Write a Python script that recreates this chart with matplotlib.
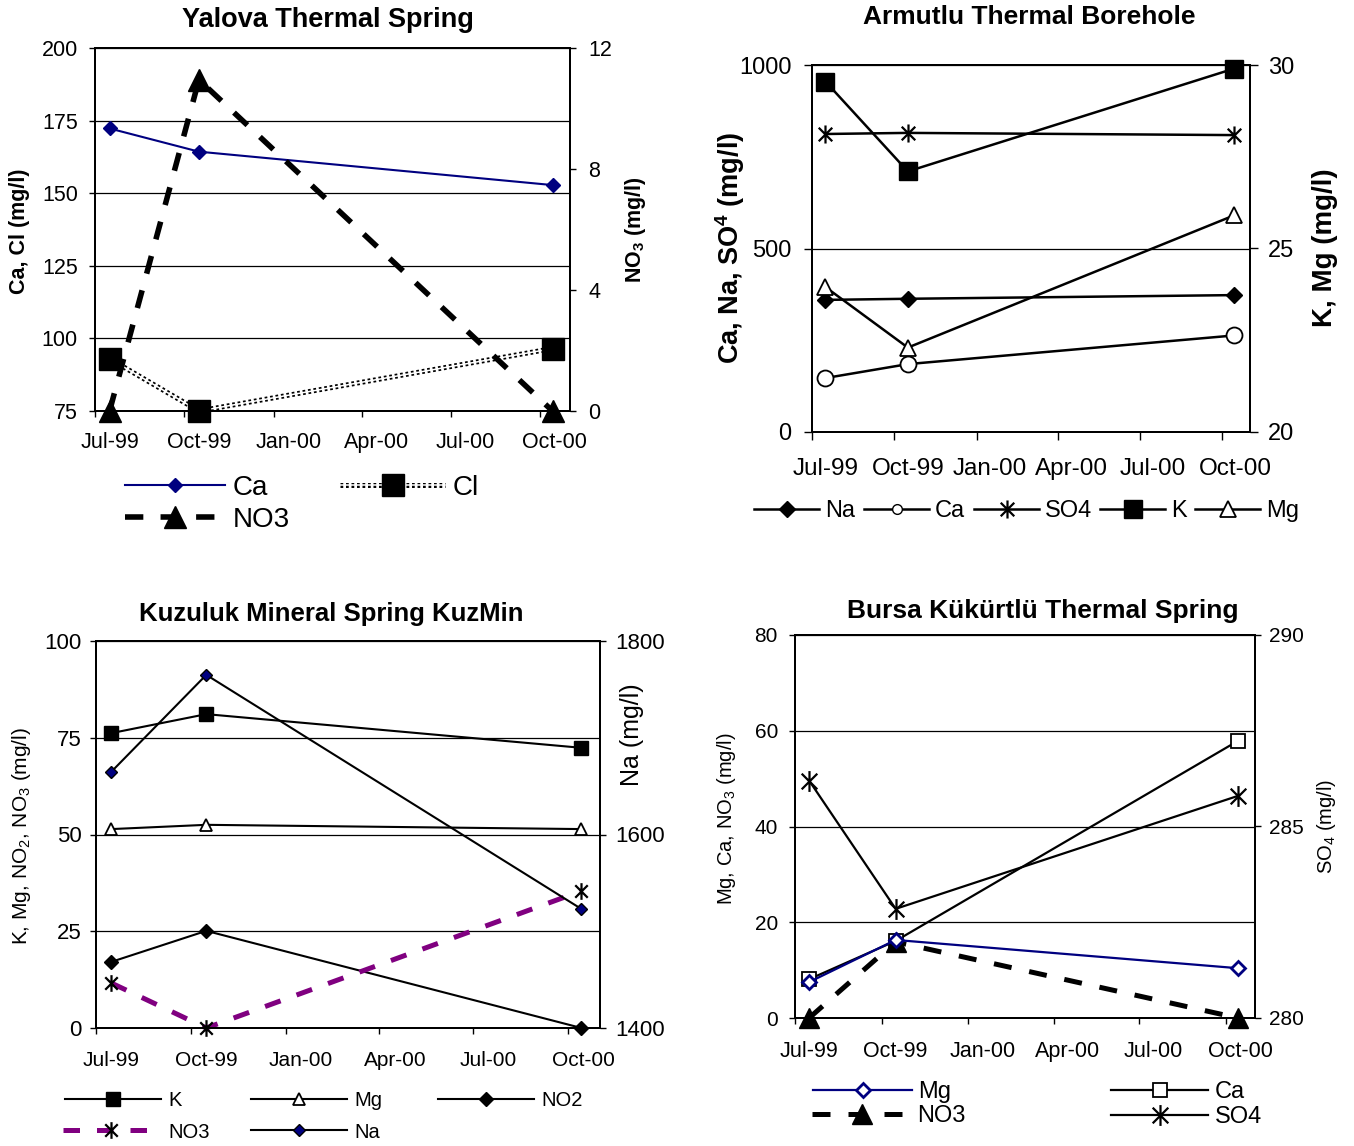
import matplotlib
matplotlib.use("Agg")
import matplotlib.pyplot as plt
import matplotlib.dates as mdates
import pandas as pd
from matplotlib.lines import Line2D
from matplotlib.path import Path
from matplotlib.legend_handler import HandlerTuple

plt.rcParams['font.family'] = ['Liberation Sans', 'DejaVu Sans']
plt.rcParams['mathtext.fontset'] = 'custom'
plt.rcParams['mathtext.rm'] = 'Liberation Sans'
plt.rcParams['mathtext.bf'] = 'Liberation Sans:bold'

# ---------------- data ----------------
sample_dates = ['1999-07-16', '1999-10-16', '2000-10-14']
tick_labels = ['Jul-99', 'Oct-99', 'Jan-00', 'Apr-00', 'Jul-00', 'Oct-00']
tick_month_starts = ['1999-07-01', '1999-10-01', '2000-01-01', '2000-04-01', '2000-07-01', '2000-10-01']
tick_label_dates = ['1999-07-16', '1999-10-16', '2000-01-16', '2000-04-16', '2000-07-16', '2000-10-16']
x_range = ['1999-07-01', '2000-11-01']

# Yalova Thermal Spring
yal_ca = [172.3, 164.3, 152.8]
yal_cl = [93.0, 75.0, 96.5]
yal_no3 = [0.0, 10.95, 0.0]

# Armutlu Thermal Borehole
arm_na = [360, 363, 373]
arm_ca = [147, 185, 263]
arm_so4 = [812, 815, 809]
arm_k = [29.55, 27.1, 29.9]
arm_mg = [23.95, 22.3, 25.9]

# Kuzuluk Mineral Spring KuzMin
kuz_k = [76.2, 81.1, 72.4]
kuz_mg = [51.4, 52.5, 51.4]
kuz_no2 = [17.1, 25.1, 0.0]
kuz_no3 = [11.6, 0.0, 35.4]
kuz_na = [1665, 1765, 1523]

# Bursa Kukurtlu Thermal Spring
bur_mg = [7.5, 16.3, 10.4]
bur_ca = [8.1, 16.1, 57.9]
bur_no3 = [0.0, 15.9, 0.0]
bur_so4 = [286.2, 282.85, 285.8]

# ---------------- figure ----------------
W, H = 1354, 1146
fig = plt.figure(figsize=(W / 100, H / 100), dpi=100)

x = mdates.date2num(pd.to_datetime(sample_dates))
xmaj = mdates.date2num(pd.to_datetime(tick_month_starts))
xlab = mdates.date2num(pd.to_datetime(tick_label_dates))
xlim = mdates.date2num(pd.to_datetime(x_range))

NAVY = '#000080'
PURPLE = '#800080'
# Excel-like asterisk: an X plus a vertical bar
ASTER = Path([(0, -1), (0, 1), (-0.75, -0.75), (0.75, 0.75), (-0.75, 0.75), (0.75, -0.75)],
             [Path.MOVETO, Path.LINETO, Path.MOVETO, Path.LINETO, Path.MOVETO, Path.LINETO])


def add_ax(l, t, r, b):
    return fig.add_axes([l / W, 1 - b / H, (r - l) / W, (b - t) / H])


def setup(ax, ax2, ylim, yticks, ylim2, yticks2, yfs, xfs, xpad, ypad_l, ypad_r, tl=6):
    ax.set_xlim(*xlim)
    ax.set_ylim(*ylim)
    ax.set_yticks(yticks)
    ax2.set_ylim(*ylim2)
    ax2.set_yticks(yticks2)
    ax.set_xticks(xmaj)
    ax.set_xticklabels([])
    ax.set_xticks(xlab, minor=True)
    ax.set_xticklabels(tick_labels, minor=True, fontsize=xfs)
    ax.tick_params(axis='x', which='major', length=tl * 0.72, width=1.0, direction='out')
    ax.tick_params(axis='x', which='minor', length=0, pad=xpad)
    ax.tick_params(axis='y', length=tl * 0.72, width=1.0, direction='out', labelsize=yfs, pad=ypad_l)
    ax2.tick_params(axis='y', length=tl * 0.72, width=1.0, direction='out', labelsize=yfs, pad=ypad_r)
    ax.yaxis.grid(True, color='black', lw=0.9)
    for a in (ax, ax2):
        for s in a.spines.values():
            s.set_linewidth(1.4)


def entry(handle, label, xh, y, hl_px, fs, pad_px=6):
    em = fs * 100 / 72
    fig.legend([handle], [label], loc='center left',
               bbox_to_anchor=(xh / W, 1 - y / H), frameon=False,
               borderpad=0, borderaxespad=0, handlelength=hl_px / em,
               handletextpad=pad_px / em, fontsize=fs, numpoints=1,
               handler_map={tuple: HandlerTuple(ndivide=1, pad=0)})


# ================= Yalova =================
ax = add_ax(95, 48, 570, 411)
ax2 = ax.twinx()
setup(ax, ax2, (75, 200), [75, 100, 125, 150, 175, 200], (0, 12), [0, 4, 8, 12],
      15.5, 15.5, 15, 8, 9)
l_ca, = ax.plot(x, yal_ca, color=NAVY, lw=1.5, marker='D', ms=7, mfc=NAVY, mec=NAVY, zorder=4)
cl_a, = ax.plot(x, yal_cl, color='black', lw=3.6, ls=(0, (0.55, 0.55)), zorder=3)
cl_b, = ax.plot(x, yal_cl, color='white', lw=1.1, zorder=3.1)
cl_c, = ax.plot(x, yal_cl, ls='none', marker='s', ms=15.5, color='black', zorder=5, clip_on=False)
l_no3, = ax2.plot(x, yal_no3, color='black', lw=4.0, ls=(0, (3.3, 3.1)), marker='^', ms=16.5,
                  clip_on=False, zorder=5)
fig.text(328 / W, 1 - 20 / H, 'Yalova Thermal Spring', ha='center', va='center',
         fontsize=19.5, fontweight='bold')
fig.text(20 / W, 1 - 231 / H, 'Ca, Cl (mg/l)', ha='center', va='center', rotation=90,
         fontsize=15.5, fontweight='bold')
fig.text(636 / W, 1 - 230 / H, r'NO$_{\mathdefault{3}}$ (mg/l)', ha='center', va='center',
         rotation=90, fontsize=15.5, fontweight='bold')
entry(l_ca, 'Ca', 125, 488, 100, 20, 8)
entry((cl_a, cl_b, Line2D([], [], ls='none', marker='s', ms=15.5, color='black')), 'Cl',
      340, 488, 105, 20, 8)
entry(l_no3, 'NO3', 125, 520, 100, 20, 8)

# ================= Armutlu =================
ax = add_ax(812, 65, 1250, 432)
ax2 = ax.twinx()
setup(ax, ax2, (0, 1000), [0, 500, 1000], (20, 30), [20, 25, 30], 17, 17.5, 19, 9, 7, tl=8)
kw = dict(color='black', lw=1.8, clip_on=False)
a_na, = ax.plot(x, arm_na, marker='D', ms=8, mfc='black', **kw)
a_ca, = ax.plot(x, arm_ca, marker='o', ms=11.5, mfc='white', mew=1.3, **kw)
a_so4, = ax.plot(x, arm_so4, marker=ASTER, ms=13, mew=1.6, **kw)
a_k, = ax2.plot(x, arm_k, marker='s', ms=13, mfc='black', **kw)
a_mg, = ax2.plot(x, arm_mg, marker='^', ms=11.5, mfc='white', mew=1.3, **kw)
fig.text(1029 / W, 1 - 17 / H, 'Armutlu Thermal Borehole', ha='center', va='center',
         fontsize=19, fontweight='bold')
fig.text(730 / W, 1 - 248 / H, r'Ca, Na, SO$^{\mathdefault{4}}$ (mg/l)', ha='center',
         va='center', rotation=90, fontsize=19.5, fontweight='bold')
fig.text(1325 / W, 1 - 248 / H, 'K, Mg (mg/l)', ha='center', va='center', rotation=90,
         fontsize=20, fontweight='bold')
leg_a = [(a_na, 'Na', 754), (Line2D([], [], color='black', lw=1.8, marker='o', ms=7, mfc='white'), 'Ca', 864),
         (a_so4, 'SO4', 974), (a_k, 'K', 1100), (a_mg, 'Mg', 1195)]
for h, lab, xx in leg_a:
    entry(h, lab, xx, 511, 65, 17, 6)

# ================= Kuzuluk =================
ax = add_ax(96, 641, 600, 1028)
ax2 = ax.twinx()
setup(ax, ax2, (0, 100), [0, 25, 50, 75, 100], (1400, 1800), [1400, 1600, 1800],
      16, 15, 16.5, 6, 7)
kw = dict(color='black', lw=1.5, clip_on=False)
k_k, = ax.plot(x, kuz_k, marker='s', ms=10, mfc='black', **kw)
k_mg, = ax.plot(x, kuz_mg, marker='^', ms=9, mfc='white', mew=1.3, **kw)
k_no2, = ax.plot(x, kuz_no2, marker='D', ms=7, mfc='black', **kw)
k_no3, = ax.plot(x, kuz_no3, color=PURPLE, lw=3.6, ls=(0, (3.3, 3.4)), marker=ASTER, ms=12,
                 mec='black', mew=1.6, clip_on=False)
k_na, = ax2.plot(x, kuz_na, marker='D', ms=6, mfc=NAVY, mec='black', mew=1.0, **kw)
fig.text(331 / W, 1 - 614 / H, 'Kuzuluk Mineral Spring KuzMin', ha='center', va='center',
         fontsize=18.5, fontweight='bold')
fig.text(22 / W, 1 - 836 / H, r'K, Mg, NO$_{\mathdefault{2}}$, NO$_{\mathdefault{3}}$ (mg/l)',
         ha='center', va='center', rotation=90, fontsize=15)
fig.text(632 / W, 1 - 735 / H, 'Na (mg/l)', ha='center', va='center', rotation=90, fontsize=18)
entry(k_k, 'K', 65, 1101, 96, 14.5, 7)
entry(k_mg, 'Mg', 251, 1101, 96, 14.5, 7)
entry(k_no2, 'NO2', 438, 1101, 96, 14.5, 7)
entry(k_no3, 'NO3', 63, 1132, 96, 14.5, 9)
entry(k_na, 'Na', 251, 1132, 96, 14.5, 7)

# ================= Bursa =================
ax = add_ax(795, 635, 1255, 1018)
ax2 = ax.twinx()
setup(ax, ax2, (0, 80), [0, 20, 40, 60, 80], (280, 290), [280, 285, 290],
      15, 15.5, 16.5, 8, 6)
kw = dict(lw=1.6, clip_on=False)
b_mg, = ax.plot(x, bur_mg, color=NAVY, marker='D', ms=7.5, mfc='white', mec=NAVY, mew=2, zorder=4, **kw)
b_ca, = ax.plot(x, bur_ca, color='black', marker='s', ms=9.5, mfc='white', mew=1.3, **kw)
b_no3, = ax.plot(x, bur_no3, color='black', lw=3.6, ls=(0, (3.6, 3.6)), marker='^', ms=14,
                 clip_on=False, zorder=3)
b_so4, = ax2.plot(x, bur_so4, color='black', marker=ASTER, ms=15, mew=1.6, **kw)
fig.text(1043 / W, 1 - 611 / H, 'Bursa Kükürtlü Thermal Spring', ha='center', va='center',
         fontsize=19, fontweight='bold')
fig.text(727 / W, 1 - 819 / H, r'Mg, Ca, NO$_{\mathdefault{3}}$ (mg/l)', ha='center', va='center',
         rotation=90, fontsize=14.5)
fig.text(1327 / W, 1 - 826 / H, r'SO$_{\mathdefault{4}}$ (mg/l)', ha='center', va='center',
         rotation=90, fontsize=14.5)
entry(b_mg, 'Mg', 813, 1092, 99, 17, 6)
entry(b_ca, 'Ca', 1111, 1092, 97, 17, 7)
entry(b_no3, 'NO3', 812, 1116, 99, 17, 6)
entry(b_so4, 'SO4', 1111, 1117, 97, 17, 7)

fig.savefig('out.png', dpi=100)
